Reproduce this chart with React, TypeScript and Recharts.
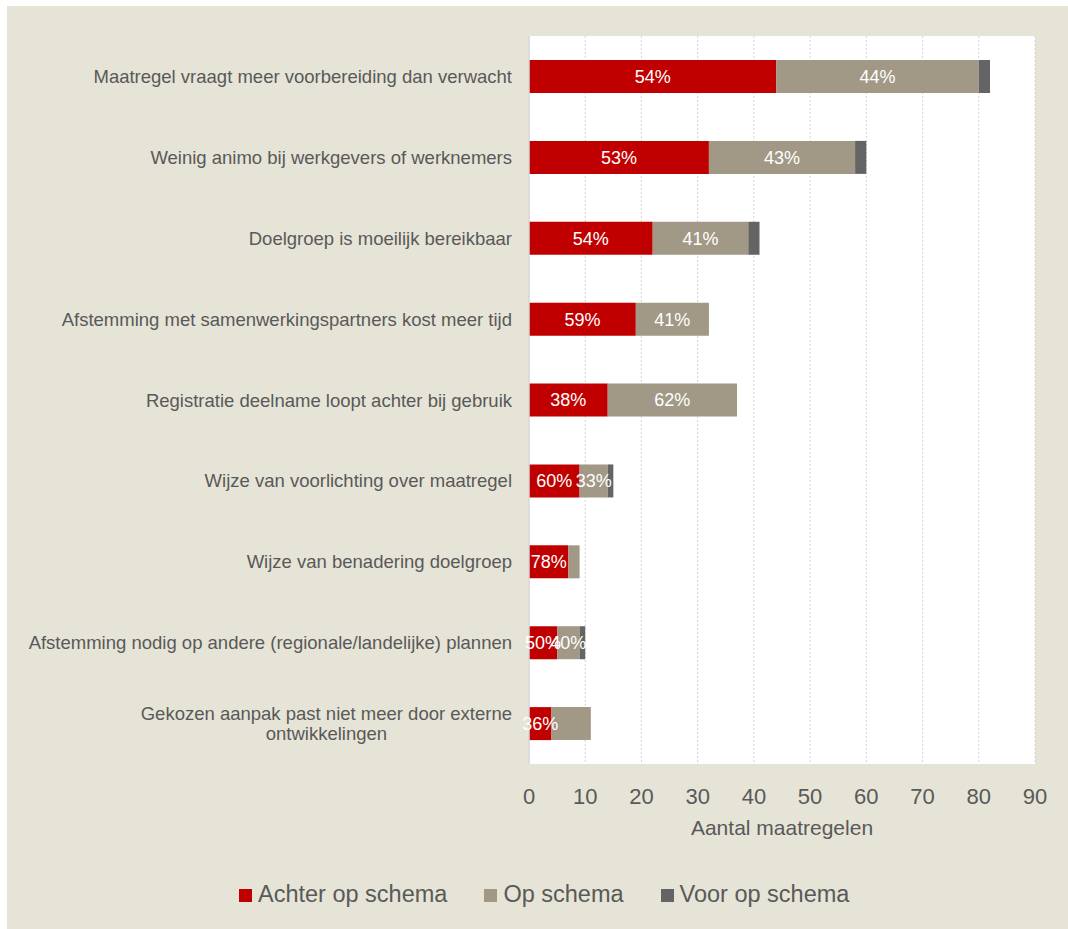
import React from 'react';
import {
  BarChart,
  Bar,
  XAxis,
  YAxis,
  CartesianGrid,
  LabelList,
} from 'recharts';

const CATEGORIES = [
  'Maatregel vraagt meer voorbereiding dan verwacht',
  'Weinig animo bij werkgevers of werknemers',
  'Doelgroep is moeilijk bereikbaar',
  'Afstemming met samenwerkingspartners kost meer tijd',
  'Registratie deelname loopt achter bij gebruik',
  'Wijze van voorlichting over maatregel',
  'Wijze van benadering doelgroep',
  'Afstemming nodig op andere (regionale/landelijke) plannen',
  'Gekozen aanpak past niet meer door externe ontwikkelingen',
];

const ACHTER = [44, 32, 22, 19, 14, 9, 7, 5, 4];
const OP = [36, 26, 17, 13, 23, 5, 2, 4, 7];
const VOOR = [2, 2, 2, 0, 0, 1, 0, 1, 0];

const ACHTER_LABELS = ['54%', '53%', '54%', '59%', '38%', '60%', '78%', '50%', '36%'];
const OP_LABELS = ['44%', '43%', '41%', '41%', '62%', '33%', '', '40%', ''];

const X_TICKS = [0, 10, 20, 30, 40, 50, 60, 70, 80, 90];

const SERIES = [
  { key: 'achter', name: 'Achter op schema', color: '#c00000' },
  { key: 'op', name: 'Op schema', color: '#a19886' },
  { key: 'voor', name: 'Voor op schema', color: '#646464' },
];

const TEXT = '#595959';
const FONT = '"Liberation Sans", Arial, sans-serif';
const CAT_SIZE = 18.5;
const CAT_WIDTH = 490;

const data = CATEGORIES.map((name, i) => ({
  name,
  achter: ACHTER[i],
  op: OP[i],
  voor: VOOR[i],
  achterLabel: ACHTER_LABELS[i],
  opLabel: OP_LABELS[i],
}));

let ctx: CanvasRenderingContext2D | null = null;
function measure(s: string) {
  if (!ctx) {
    ctx = document.createElement('canvas').getContext('2d');
    if (ctx) ctx.font = `${CAT_SIZE}px ${FONT}`;
  }
  return ctx ? ctx.measureText(s).width : s.length * CAT_SIZE * 0.5;
}

function wrap(s: string, maxW: number) {
  const lines: string[] = [];
  let cur = '';
  s.split(' ').forEach((w) => {
    const next = cur ? cur + ' ' + w : w;
    if (cur && measure(next) > maxW) {
      lines.push(cur);
      cur = w;
    } else {
      cur = next;
    }
  });
  if (cur) lines.push(cur);
  return lines;
}

// wrapped labels are centred as a block, the block itself right-aligned
function CategoryTick(props: any) {
  const { x, y, payload } = props;
  const lines = wrap(payload.value, CAT_WIDTH);
  const lh = CAT_SIZE * 1.1;
  const startY = y - ((lines.length - 1) * lh) / 2 + CAT_SIZE * 0.355;
  const multi = lines.length > 1;
  const blockW = Math.max(...lines.map(measure));
  const tx = multi ? x - blockW / 2 : x;
  return (
    <text
      x={tx}
      y={startY}
      textAnchor={multi ? 'middle' : 'end'}
      fill={TEXT}
      fontSize={CAT_SIZE}
      fontFamily={FONT}
    >
      {lines.map((l, i) => (
        <tspan key={i} x={tx} dy={i === 0 ? 0 : lh}>
          {l}
        </tspan>
      ))}
    </text>
  );
}

export default function App() {
  return (
    <div
      style={{
        position: 'absolute',
        left: 7,
        top: 6,
        width: 1061,
        height: 923,
        background: '#e6e4d6',
        overflow: 'hidden',
        fontFamily: FONT,
      }}
    >
      <BarChart
        layout="vertical"
        width={1061}
        height={923}
        data={data}
        margin={{ top: 30, right: 33, left: 0, bottom: 83 }}
        barSize={33}
      >
        <CartesianGrid
          horizontal={false}
          stroke="#d4d4d4"
          strokeDasharray="2 2"
          fill="#ffffff"
        />
        <XAxis
          type="number"
          domain={[0, 90]}
          ticks={X_TICKS}
          interval={0}
          axisLine={false}
          tickLine={false}
          tickSize={0}
          tickMargin={24}
          height={82}
          tick={{ fill: TEXT, fontSize: 22, fontFamily: FONT }}
          label={{
            value: 'Aantal maatregelen',
            position: 'insideBottom',
            offset: 11,
            fill: TEXT,
            fontSize: 21,
            fontFamily: FONT,
          }}
        />
        <YAxis
          type="category"
          dataKey="name"
          width={522}
          interval={0}
          axisLine={{ stroke: '#d9d9d9', strokeWidth: 1.5 }}
          tickLine={false}
          tickSize={0}
          tickMargin={17}
          tick={<CategoryTick />}
        />
        <Bar dataKey="achter" stackId="a" fill={SERIES[0].color} isAnimationActive={false}>
          <LabelList
            dataKey="achterLabel"
            position="center"
            fill="#ffffff"
            fontSize={18}
            fontFamily={FONT}
          />
        </Bar>
        <Bar dataKey="op" stackId="a" fill={SERIES[1].color} isAnimationActive={false}>
          <LabelList
            dataKey="opLabel"
            position="center"
            fill="#ffffff"
            fontSize={18}
            fontFamily={FONT}
          />
        </Bar>
        <Bar dataKey="voor" stackId="a" fill={SERIES[2].color} isAnimationActive={false} />
      </BarChart>

      <div
        style={{
          position: 'absolute',
          left: 232,
          top: 874,
          display: 'flex',
          alignItems: 'baseline',
          color: TEXT,
          fontSize: 23.5,
          lineHeight: '28px',
          whiteSpace: 'nowrap',
        }}
      >
        {SERIES.map((s, i) => (
          <div
            key={s.key}
            style={{ display: 'flex', alignItems: 'center', marginLeft: i === 0 ? 0 : 37 }}
          >
            <span
              style={{
                display: 'inline-block',
                width: 13,
                height: 13,
                background: s.color,
                marginRight: 6,
                marginTop: 3,
              }}
            />
            <span>{s.name}</span>
          </div>
        ))}
      </div>
    </div>
  );
}
